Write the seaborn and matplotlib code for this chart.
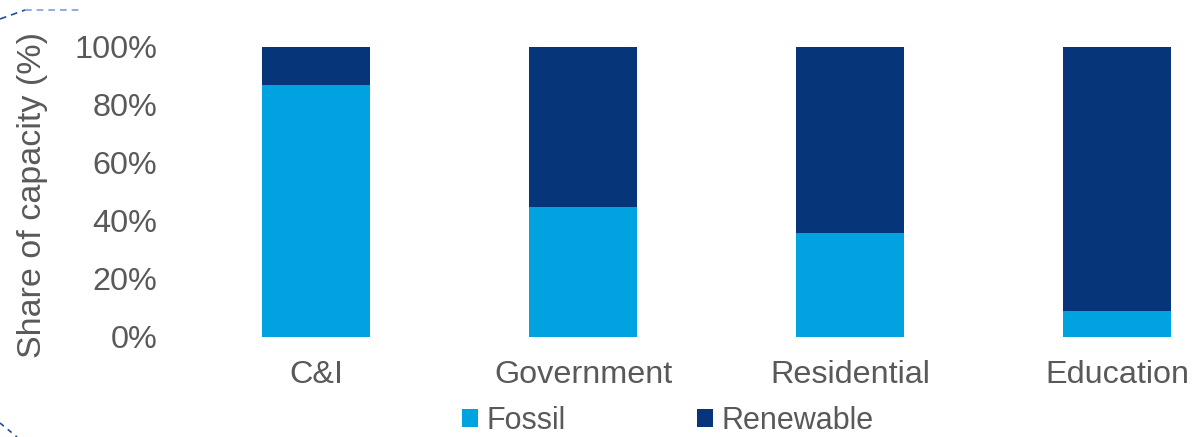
import matplotlib
matplotlib.use("Agg")
import matplotlib.pyplot as plt
import seaborn as sns
import pandas as pd
from matplotlib.lines import Line2D
from matplotlib.patches import Patch
from matplotlib.ticker import PercentFormatter

categories = ["C&I", "Government", "Residential", "Education"]
fossil = [0.87, 0.448, 0.358, 0.09]
renewable = [0.13, 0.552, 0.642, 0.91]

FOSSIL_C = "#00A3E0"
RENEW_C = "#07357A"
TXT = "#595959"

sns.set_theme(style="white")
plt.rcParams["font.family"] = ["Liberation Sans", "DejaVu Sans"]

W, H = 1201, 437
fig = plt.figure(figsize=(W / 100, H / 100), dpi=100)
left = 183 / W
ax = fig.add_axes([left, (H - 337) / H, 1 - left, 290 / H])

df = pd.DataFrame({"cat": categories, "fossil": fossil,
                   "total": [f + r for f, r in zip(fossil, renewable)]})
sns.barplot(data=df, x="cat", y="total", color=RENEW_C, width=0.405,
            saturation=1, ax=ax, order=categories, linewidth=0)
sns.barplot(data=df, x="cat", y="fossil", color=FOSSIL_C, width=0.405,
            saturation=1, ax=ax, order=categories, linewidth=0)

ax.set_xlim(-0.5, 3 + (W - 1117) / 266.7)
ax.set_ylim(0, 1)
ax.set_yticks([0, 0.2, 0.4, 0.6, 0.8, 1.0])
ax.yaxis.set_major_formatter(PercentFormatter(1.0, decimals=0))
ax.set_xlabel("")
ax.set_ylabel("")
for s in ax.spines.values():
    s.set_visible(False)
ax.tick_params(axis="x", length=0, pad=16.5, labelsize=23.3, labelcolor=TXT)
ax.tick_params(axis="y", length=0, pad=18.5, labelsize=23.3, labelcolor=TXT)
ax.grid(False)

fig.text(33 / W, 1 - 195 / H, "Share of capacity (%)", rotation=90,
         ha="center", va="center", fontsize=24.5, color=TXT)

handles = [Patch(facecolor=FOSSIL_C, edgecolor="none", label="Fossil"),
           Patch(facecolor=RENEW_C, edgecolor="none", label="Renewable")]
leg = fig.legend(handles=handles, loc="center", ncol=2, frameon=False,
                 bbox_to_anchor=(668 / W, 1 - 421 / H), fontsize=22,
                 handlelength=0.52, handleheight=0.52, handletextpad=0.27,
                 columnspacing=4.3, borderpad=0)
for t in leg.get_texts():
    t.set_color(TXT)

# decorative corner dashes
fig.add_artist(Line2D([0, 25 / W], [1 - 19 / H, 1 - 10 / H], transform=fig.transFigure,
                      color="#1F4E9A", lw=1.2, ls=(0, (4, 3))))
fig.add_artist(Line2D([25 / W, 79 / W], [1 - 10 / H, 1 - 10 / H], transform=fig.transFigure,
                      color="#7F9FD6", lw=1.2, ls=(0, (4, 3))))
fig.add_artist(Line2D([0, 17 / W], [1 - 423 / H, 0], transform=fig.transFigure,
                      color="#1F4E9A", lw=1.2, ls=(0, (3, 3))))

fig.savefig("out.png", dpi=100)
